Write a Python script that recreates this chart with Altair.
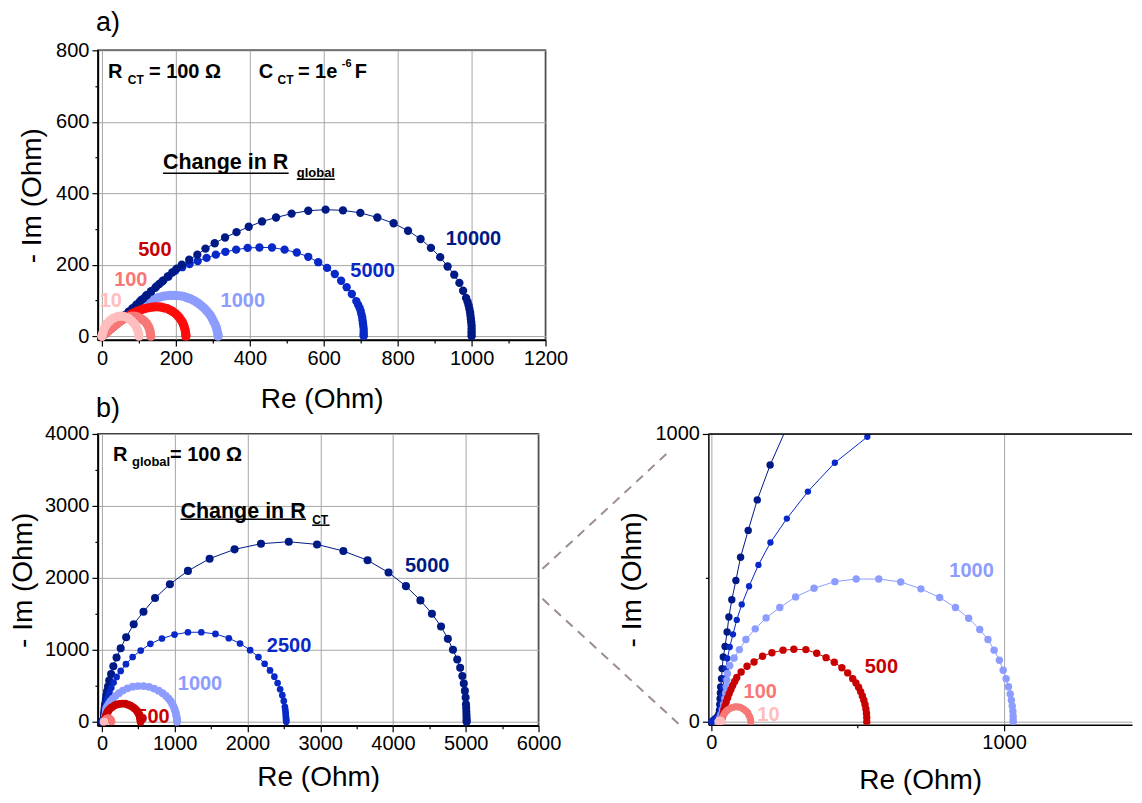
import altair as alt
import pandas as pd

FONT = "Liberation Sans"

# ---------------- panel a): R_CT = 100 Ohm, C_CT = 1e-6 F, R_global varied ----------------
A_R10 = [(0, 0), (2, 9), (5, 18), (9, 27), (14, 35), (20, 42), (27, 48), (35, 52), (43, 55), (51, 56),
         (59, 55), (67, 52), (74, 48), (81, 42), (87, 35), (92, 27), (96, 18), (99, 9), (100, 0)]
A_R100 = [(0, 0), (7, 6), (14, 12), (21, 18), (28, 24), (35, 30), (42, 36), (49, 41), (56, 46), (63, 50),
          (70, 53), (77, 55), (84, 56), (91, 55), (98, 53), (104, 50), (110, 46), (116, 41), (121, 35),
          (125, 28), (128, 21), (130, 14), (131, 7), (132, 0)]
A_R500 = [(0, 0), (8, 7), (16, 14), (24, 21), (32, 28), (40, 35), (48, 41), (56, 47), (64, 52), (72, 57),
          (80, 62), (88, 66), (96, 70), (104, 73), (112, 76), (120, 78), (128, 80), (136, 81), (144, 82),
          (152, 82), (160, 81), (168, 79), (176, 77), (184, 73), (191, 69), (198, 64), (204, 58), (209, 52),
          (214, 45), (218, 38), (221, 31), (223, 24), (225, 17), (226, 10), (227, 4), (227, 0)]
A_R1000 = [(0, 0), (8, 7), (16, 14), (24, 21), (32, 28), (40, 35), (48, 42), (56, 49), (64, 55), (72, 61),
           (80, 67), (88, 73), (96, 79), (104, 84), (112, 89), (120, 94), (128, 98), (136, 102), (144, 105),
           (152, 108), (160, 110), (168, 112), (176, 113), (184, 114), (192, 114), (200, 114), (208, 113),
           (216, 112), (224, 110), (232, 107), (240, 104), (248, 100), (256, 95), (263, 90), (270, 84),
           (277, 78), (283, 71), (289, 64), (294, 57), (298, 49), (302, 41), (306, 33), (309, 25), (311, 17),
           (313, 9), (314, 3), (314, 0)]
A_R5000 = [(0, 0), (5, 4), (11, 10), (18, 17), (26, 24), (34, 32), (43, 40), (52, 49), (62, 58), (72, 68),
           (83, 78), (94, 89), (106, 101), (119, 113), (133, 126), (147, 139), (163, 153), (180, 167),
           (198, 183), (217, 193), (237, 202), (259, 210), (283, 219), (308, 228), (334, 236), (363, 242),
           (394, 247), (426, 248), (460, 248), (494, 242), (527, 234), (558, 222), (585, 207), (609, 191),
           (630, 174), (647, 155), (662, 137), (676, 118), (688, 98), (693, 88), (697, 79), (700, 70),
           (702, 61), (704, 52), (705, 44), (706, 36), (707, 28), (708, 20), (708, 12), (708, 5), (708, 0)]
A_R10000 = [(0, 0), (2, 2), (8, 8), (15, 14), (22, 21), (30, 28), (38, 36), (46, 43), (55, 52), (64, 60),
            (73, 69), (82, 77), (92, 86), (102, 96), (112, 105), (122, 115), (133, 125), (144, 135),
            (155, 146), (166, 156), (178, 167), (190, 178), (202, 189), (216, 200), (236, 214), (258, 228),
            (280, 245), (305, 260), (333, 276), (364, 291), (397, 306), (433, 321), (471, 332), (513, 343),
            (558, 351), (605, 354), (652, 352), (699, 345), (745, 332), (789, 316), (828, 295), (862, 272),
            (890, 247), (915, 221), (935, 195), (953, 172), (967, 149), (977, 127), (985, 107), (989, 96),
            (992, 86), (994, 76), (996, 66), (997, 57), (998, 48), (999, 39), (1000, 30), (1000, 21),
            (1000, 13), (1000, 6), (1000, 0)]

# ---------------- panel b) and zoom: R_global = 100 Ohm, R_CT varied ----------------
B_R10 = [(24, 0), (25, 3), (27, 5), (30, 6), (33, 5), (35, 3), (36, 0)]
B_R100 = [(35, 0), (36, 8), (38, 16), (42, 24), (46, 31), (52, 38), (58, 43), (65, 47), (72, 50), (80, 52),
          (88, 52), (96, 51), (104, 48), (111, 44), (118, 38), (124, 32), (128, 24), (132, 16), (134, 8),
          (135, 0)]
B_R500 = [(35, 0), (37, 14), (40, 28), (43, 42), (47, 56), (51, 70), (56, 84), (61, 98), (67, 112), (73, 126),
          (80, 140), (87, 154), (102, 173), (122, 193), (146, 208), (175, 228), (207, 240), (245, 249),
          (282, 252), (323, 251), (360, 238), (392, 223), (420, 207), (446, 188), (466, 170), (483, 150),
          (494, 135), (503, 120), (510, 105), (516, 90), (521, 75), (525, 60), (528, 45), (530, 30),
          (531, 15), (531, 0)]
B_R1000 = [(22, 0), (28, 12), (33, 26), (38, 42), (42, 60), (46, 80), (49, 100), (51, 122), (53, 145),
           (55, 168), (63, 195), (78, 222), (96, 251), (118, 286), (150, 323), (187, 361), (234, 397),
           (288, 434), (351, 464), (422, 487), (495, 496), (572, 496), (647, 486), (716, 462), (780, 432),
           (834, 397), (879, 360), (917, 321), (945, 286), (966, 249), (984, 214), (997, 179), (1007, 150),
           (1015, 122), (1021, 97), (1025, 75), (1028, 55), (1030, 37), (1031, 20), (1031, 7), (1031, 0)]
B_R2500 = [(0, 0), (8, 5), (16, 11), (24, 19), (30, 28), (32, 40), (33, 52), (35, 66), (37, 90), (40, 120),
           (44, 150), (50, 185), (55, 220), (63, 260), (74, 304), (87, 354), (104, 408), (129, 471),
           (161, 545), (202, 623), (258, 706), (330, 800), (422, 900), (533, 990), (666, 1083), (825, 1157),
           (998, 1212), (1182, 1244), (1366, 1244), (1560, 1221), (1744, 1161), (1898, 1088), (2037, 995),
           (2151, 899), (2236, 806), (2310, 714), (2370, 627), (2414, 539), (2449, 452), (2479, 369),
           (2499, 290), (2514, 207), (2520, 170), (2524, 129), (2527, 95), (2529, 60), (2531, 40),
           (2532, 20), (2533, 0)]
B_R5000 = [(0, 0), (7, 5), (14, 11), (21, 18), (26, 27), (28, 40), (29, 60), (30, 80), (31, 100), (32, 121),
           (35, 150), (37, 185), (41, 225), (47, 262), (54, 312), (60, 364), (70, 424), (84, 491), (100, 572),
           (126, 665), (157, 771), (201, 892), (258, 1023), (333, 1175), (437, 1355), (571, 1530),
           (730, 1719), (934, 1912), (1182, 2097), (1480, 2267), (1823, 2396), (2186, 2475), (2568, 2502),
           (2956, 2465), (3318, 2373), (3651, 2244), (3939, 2074), (4178, 1885), (4377, 1687), (4535, 1502),
           (4660, 1323), (4754, 1152), (4824, 1000), (4883, 866), (4923, 751), (4953, 636), (4973, 530),
           (4988, 429), (4998, 336), (5003, 244), (5006, 190), (5008, 140), (5010, 95), (5011, 55),
           (5012, 20), (5012, 0)]

A_SERIES = {"10": A_R10, "100": A_R100, "500": A_R500, "1000": A_R1000, "5000": A_R5000, "10000": A_R10000}
B_SERIES = {"10": B_R10, "100": B_R100, "500": B_R500, "1000": B_R1000, "2500": B_R2500, "5000": B_R5000}
A_ORDER = ["1000", "5000", "10000", "500", "100", "10"]
B_ORDER = ["5000", "2500", "1000", "500", "100", "10"]

PINK, SALMON, RED, DARKRED = "#ffbdbd", "#f77777", "#ff0a0a", "#c80000"
LIGHTBLUE, BLUE, NAVY = "#8c9cff", "#0828c8", "#001a85"
A_COLORS = {"10": PINK, "100": SALMON, "500": RED, "1000": LIGHTBLUE, "5000": BLUE, "10000": NAVY}
B_COLORS = {"10": PINK, "100": SALMON, "500": DARKRED, "1000": LIGHTBLUE, "2500": BLUE, "5000": NAVY}
A_SIZES = {"10": 85, "100": 85, "500": 85, "1000": 85, "5000": 70, "10000": 70}
B_SIZES = {"10": 50, "100": 50, "500": 60, "1000": 60, "2500": 45, "5000": 65}
Z_SIZES = {"10": 50, "100": 50, "500": 55, "1000": 55, "2500": 40, "5000": 55}

# curve labels (data coordinates)
A_LAB_TEXT = ["10000", "5000", "1000", "500", "100", "10"]
A_LAB_X = [1005, 732, 381, 143, 78, 24]
A_LAB_Y = [271, 182, 97, 240, 157, 98]
A_LAB_COLOR = [NAVY, BLUE, LIGHTBLUE, DARKRED, SALMON, PINK]

B_LAB_TEXT = ["5000", "2500", "1000", "500"]
B_LAB_X = [4470, 2572, 1348, 701]
B_LAB_Y = [2167, 1056, 528, 69]
B_LAB_COLOR = [NAVY, BLUE, LIGHTBLUE, DARKRED]

Z_LAB_TEXT = ["1000", "500", "100", "10"]
Z_LAB_X = [889, 581, 167, 195]
Z_LAB_Y = [525, 190, 103, 22]
Z_LAB_COLOR = [LIGHTBLUE, DARKRED, SALMON, PINK]

# header annotations (text pieces, left aligned at baseline)
A_HDR_TEXT = ["R", "CT", "= 100 Ω", "C", "CT", "= 1e", "-6", "F", "Change in R", "global"]
A_HDR_X = [16, 70, 127, 424, 475, 530, 649, 684, 165, 527]
A_HDR_Y = [722, 705, 722, 722, 705, 722, 752, 722, 467, 445]
A_HDR_SIZE = [20, 12, 20, 20, 12, 20, 11, 20, 21.5, 13]
A_UL_X1, A_UL_X2, A_UL_Y = [165, 527], [505, 630], [456, 439]

B_HDR_TEXT = ["R", "global", "= 100 Ω", "Change in R", "CT"]
B_HDR_X = [151, 413, 935, 1079, 2889]
B_HDR_Y = [3625, 3556, 3625, 2838, 2754]
B_HDR_SIZE = [20, 13, 20, 21.5, 12]
B_UL_X1, B_UL_X2, B_UL_Y = [1079, 2889], [2806, 3129], [2815, 2732]


def curves_df(series, order, colors, sizes):
    rows = []
    k = 0
    for name in order:
        for i, (x, y) in enumerate(series[name]):
            rows.append({"series": name, "i": i, "k": k, "x": x, "y": y,
                         "color": colors[name], "size": sizes[name]})
            k += 1
    return pd.DataFrame(rows)


def enc_x(dom, vals, major, title, title_y):
    return alt.X("x:Q", scale=alt.Scale(domain=dom, nice=False, zero=False),
                 axis=alt.Axis(values=vals, title=title, titleY=title_y, titleBaseline="alphabetic",
                               labelExpr=f"datum.value % {major} == 0 ? format(datum.value, 'd') : ''",
                               gridOpacity={"condition": {"test": f"datum.value % {major} != 0", "value": 0},
                                            "value": 1},
                               tickSize={"condition": {"test": f"datum.value % {major} != 0", "value": 3},
                                         "value": 6},
                               labelFlush=False, labelOverlap=False, labelPadding=2))


def enc_y(dom, vals, major, title, title_x):
    return alt.Y("y:Q", scale=alt.Scale(domain=dom, nice=False, zero=False),
                 axis=alt.Axis(values=vals, title=title, titleX=title_x, titleAngle=270,
                               titleBaseline="bottom", titleAlign="center",
                               labelExpr=f"datum.value % {major} == 0 ? format(datum.value, 'd') : ''",
                               gridOpacity={"condition": {"test": f"datum.value % {major} != 0", "value": 0},
                                            "value": 1},
                               tickSize={"condition": {"test": f"datum.value % {major} != 0", "value": 3},
                                         "value": 6},
                               labelFlush=False, labelOverlap=False, labelPadding=3))


def panel(df, x, y, lab, hdr=None, ul=None, clip=False):
    labels = alt.Chart(pd.DataFrame({"x": lab[1], "y": lab[2], "t": lab[0], "c": lab[3]})).mark_text(
        fontWeight="bold", fontSize=20, align="center", baseline="middle", font=FONT
    ).encode(x=x, y=y, text="t:N", color=alt.Color("c:N", scale=None))
    line = alt.Chart(df).mark_line(strokeWidth=1, clip=clip).encode(
        x=x, y=y, color=alt.Color("color:N", scale=None), detail="series:N", order="i:Q")
    pts = alt.Chart(df).mark_circle(opacity=1, clip=clip).encode(
        x=x, y=y, color=alt.Color("color:N", scale=None), size=alt.Size("size:Q", scale=None),
        order=alt.Order("k:Q"))
    layers = [labels, line, pts]
    if hdr is not None:
        layers.append(alt.Chart(pd.DataFrame({"x": hdr[1], "y": hdr[2], "t": hdr[0], "s": hdr[3]})).mark_text(
            fontWeight="bold", align="left", baseline="alphabetic", color="black", font=FONT
        ).encode(x=x, y=y, text="t:N", size=alt.Size("s:Q", scale=None)))
    if ul is not None:
        layers.append(alt.Chart(pd.DataFrame({"x": ul[0], "x2": ul[1], "y": ul[2]})).mark_rule(
            color="black", strokeWidth=1.5).encode(x=x, x2="x2:Q", y=y))
    return layers


one = pd.DataFrame({"a": [0]})

# ---------- panel a ----------
AW, AH = 448, 290
dfa = curves_df(A_SERIES, A_ORDER, A_COLORS, A_SIZES)
xa = enc_x([-11, 1200], list(range(0, 1201, 100)), 200, "Re (Ohm)", 68)
ya = enc_y([-11, 800], list(range(0, 801, 100)), 200, "- Im (Ohm)", -51)
la = panel(dfa, xa, ya, (A_LAB_TEXT, A_LAB_X, A_LAB_Y, A_LAB_COLOR),
           (A_HDR_TEXT, A_HDR_X, A_HDR_Y, A_HDR_SIZE), (A_UL_X1, A_UL_X2, A_UL_Y))
la.append(alt.Chart(one).mark_text(fontSize=27, align="left", baseline="top", font=FONT, color="black")
          .encode(x=alt.value(-2), y=alt.value(-40), text=alt.value("a)")))
panel_a = alt.layer(*la).properties(width=AW, height=AH,
                                    view=alt.ViewBackground(stroke="black", strokeWidth=1.5))

# ---------- panel b ----------
BW, BH = 441, 292
dfb = curves_df(B_SERIES, B_ORDER, B_COLORS, B_SIZES)
xb = enc_x([-55, 6000], list(range(0, 6001, 500)), 1000, "Re (Ohm)", 60)
yb = enc_y([-55, 4000], list(range(0, 4001, 500)), 1000, "- Im (Ohm)", -60)
lb = panel(dfb, xb, yb, (B_LAB_TEXT, B_LAB_X, B_LAB_Y, B_LAB_COLOR),
           (B_HDR_TEXT, B_HDR_X, B_HDR_Y, B_HDR_SIZE), (B_UL_X1, B_UL_X2, B_UL_Y))
lb.append(alt.Chart(one).mark_text(fontSize=27, align="left", baseline="top", font=FONT, color="black")
          .encode(x=alt.value(-2), y=alt.value(-38), text=alt.value("b)")))
panel_b = alt.layer(*lb).properties(width=BW, height=BH,
                                    view=alt.ViewBackground(stroke="black", strokeWidth=1.5))

# ---------- zoom of panel b ----------
ZW, ZH = 424, 291
dfz = curves_df(B_SERIES, B_ORDER, B_COLORS, Z_SIZES)
xz = enc_x([-10, 1437], [0, 500, 1000], 1000, "Re (Ohm)", 64)
yz = enc_y([-10, 1000], [0, 500, 1000], 1000, "- Im (Ohm)", -62)
lz = panel(dfz, xz, yz, (Z_LAB_TEXT, Z_LAB_X, Z_LAB_Y, Z_LAB_COLOR), clip=True)
lz.append(alt.Chart(one).mark_rule(color="black", strokeWidth=1.5)
          .encode(x=alt.value(0), x2=alt.value(ZW), y=alt.value(0)))
for (x1, y1, x2, y2) in [(-166, 135, -41, 19), (-166, 165, -30, 290)]:
    lz.append(alt.Chart(one).mark_rule(color="#9e8c8c", strokeWidth=2, strokeDash=[9, 7])
              .encode(x=alt.value(x1), y=alt.value(y1), x2=alt.value(x2), y2=alt.value(y2)))
panel_z = alt.layer(*lz).properties(width=ZW, height=ZH,
                                    view=alt.ViewBackground(stroke="transparent"))

chart = alt.vconcat(
    panel_a,
    alt.hconcat(panel_b, panel_z, spacing=170, bounds="flush"),
    spacing=94, bounds="flush"
).properties(
    padding={"left": 1, "top": 0, "right": 0, "bottom": 0}
).configure(font=FONT).configure_view(stroke="transparent").configure_axis(
    labelFont=FONT, labelFontSize=20, labelColor="black",
    titleFont=FONT, titleFontSize=28, titleFontWeight="normal", titleColor="black",
    tickColor="black", tickWidth=1.2, domainColor="black", domainWidth=1.5,
    gridColor="#a6a6a6", gridWidth=1
)

chart.save("out.html", embed_options={"renderer": "svg", "actions": False})
